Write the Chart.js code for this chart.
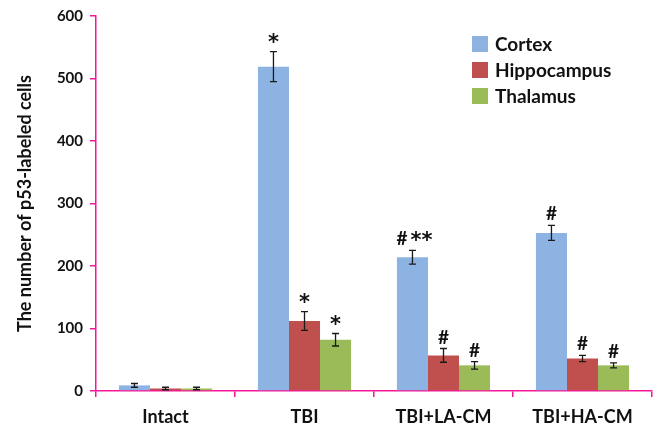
<!DOCTYPE html>
<html>
<head>
<meta charset="utf-8">
<script src="https://cdn.jsdelivr.net/npm/chart.js@4/dist/chart.umd.min.js"></script>
<style>
  html, body { margin: 0; padding: 0; background: #fff; }
  #wrap { width: 656px; height: 432px; }
</style>
</head>
<body>
<div id="wrap"><canvas id="p53Chart" width="656" height="432"></canvas></div>
<script>
// Données
const groups = ["Intact", "TBI", "TBI+LA-CM", "TBI+HA-CM"];
const regions = ["Cortex", "Hippocampus", "Thalamus"];
const cortex = [9, 519, 214, 253];
const hippocampus = [4, 112, 57, 52];
const thalamus = [4, 82, 41, 41];
const cortexErr = [3, 24, 11, 12];
const hippocampusErr = [2, 15, 11, 5];
const thalamusErr = [2, 10, 6, 4];
const cortexMarks = ["", "*", "#**", "#"];
const hippocampusMarks = ["", "*", "#", "#"];
const thalamusMarks = ["", "*", "#", "#"];
const yTicks = [0, 100, 200, 300, 400, 500, 600];

const colors = ["#8db3e2", "#c0504d", "#9bbb59"];
const axisPink = "#f5169a";
const FONT = "Lato, 'Open Sans', sans-serif";
const HASH_FONT = "bold 19px " + FONT;
const STAR_FONT = "bold 21px 'DejaVu Sans', sans-serif";

// dessine "#", "*" ou "#**" centré au-dessus de la barre d'erreur
function drawMark(ctx, mark, cx, yTop) {
  const parts = mark.split("");
  const widths = parts.map(c => {
    ctx.font = c === "*" ? STAR_FONT : HASH_FONT;
    return ctx.measureText(c).width + (c === "#" && parts.length > 1 ? 3 : 0);
  });
  const total = widths.reduce((a, b) => a + b, 0);
  let x = cx - total / 2 + (parts.length > 1 ? 2 : 0);
  ctx.fillStyle = "#111";
  ctx.textAlign = "left";
  ctx.textBaseline = "alphabetic";
  parts.forEach((c, k) => {
    ctx.font = c === "*" ? STAR_FONT : HASH_FONT;
    ctx.fillText(c, x, c === "*" ? yTop - 3 : yTop - 5);
    x += widths[k];
  });
}

// barres d'erreur + annotations + légende
const extrasPlugin = {
  id: "extras",
  afterDatasetsDraw(chart) {
    const ctx = chart.ctx;
    const y = chart.scales.y;
    ctx.save();
    chart.data.datasets.forEach((ds, i) => {
      const meta = chart.getDatasetMeta(i);
      meta.data.forEach((bar, j) => {
        const v = ds.data[j];
        const e = ds.errors[j];
        const yTop = y.getPixelForValue(v + e);
        const yBot = y.getPixelForValue(v - e);
        ctx.strokeStyle = "#1a1a1a";
        ctx.lineWidth = 1.3;
        ctx.beginPath();
        ctx.moveTo(bar.x, yTop); ctx.lineTo(bar.x, yBot);
        ctx.moveTo(bar.x - 3.5, yTop); ctx.lineTo(bar.x + 3.5, yTop);
        ctx.moveTo(bar.x - 3.5, yBot); ctx.lineTo(bar.x + 3.5, yBot);
        ctx.stroke();
        if (ds.marks[j]) drawMark(ctx, ds.marks[j], bar.x, yTop);
      });
    });

    // légende
    const lx = 472, ly = 36;
    chart.data.datasets.forEach((ds, i) => {
      ctx.fillStyle = ds.backgroundColor;
      ctx.fillRect(lx, ly + i * 26, 16, 16);
      ctx.fillStyle = "#111";
      ctx.font = "bold 19px " + FONT;
      ctx.textAlign = "left";
      ctx.textBaseline = "middle";
      ctx.fillText(ds.label, lx + 23, ly + i * 26 + 9);
    });
    ctx.restore();
  }
};

const ctx = document.getElementById("p53Chart").getContext("2d");

new Chart(ctx, {
  type: "bar",
  data: {
    labels: groups,
    datasets: [
      { label: regions[0], data: cortex, errors: cortexErr, marks: cortexMarks, backgroundColor: colors[0] },
      { label: regions[1], data: hippocampus, errors: hippocampusErr, marks: hippocampusMarks, backgroundColor: colors[1] },
      { label: regions[2], data: thalamus, errors: thalamusErr, marks: thalamusMarks, backgroundColor: colors[2] }
    ]
  },
  options: {
    responsive: false,
    animation: false,
    layout: { padding: { top: 8, right: 4, left: 14, bottom: 0 } },
    datasets: {
      bar: { barPercentage: 1, categoryPercentage: 0.67 }
    },
    plugins: {
      legend: { display: false },
      tooltip: { enabled: false }
    },
    scales: {
      x: {
        grid: { offset: true, drawOnChartArea: false, color: axisPink, tickLength: 6, lineWidth: 1.5 },
        border: { color: axisPink, width: 1.5 },
        ticks: { color: "#111", font: { family: FONT, size: 18, weight: "bold" }, padding: 9 },
        afterFit(s) { s.height = 41; }
      },
      y: {
        min: 0,
        max: 600,
        afterBuildTicks(s) { s.ticks = yTicks.map(v => ({ value: v })); },
        grid: { drawOnChartArea: false, color: axisPink, tickLength: 6, lineWidth: 1.5 },
        border: { color: axisPink, width: 1.5 },
        ticks: { color: "#111", font: { family: FONT, size: 15, weight: "bold" }, padding: 7 },
        title: {
          display: true,
          text: "The number of p53-labeled cells",
          color: "#111",
          font: { family: FONT, size: 18, weight: "bold" },
          padding: { top: 0, bottom: 6 }
        },
        afterFit(s) { s.width = 82; }
      }
    }
  },
  plugins: [extrasPlugin]
});
</script>
</body>
</html>
